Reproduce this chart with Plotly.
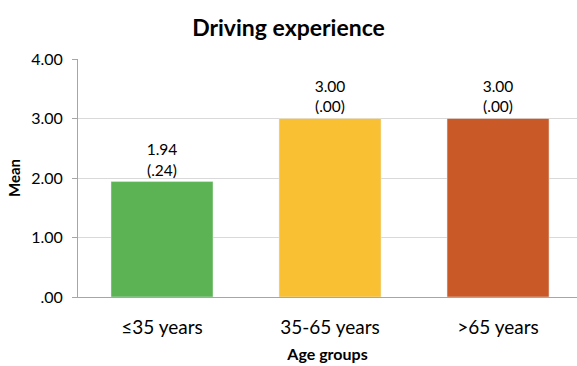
import plotly.graph_objects as go

categories = ["≤35 years", "35-65 years", ">65 years"]
means = [1.94, 3.00, 3.00]
sds = [".24", ".00", ".00"]
colors = ["#5CB353", "#F9C033", "#C95A27"]
y_ticks = [0, 1, 2, 3, 4]
y_tick_labels = [".00", "1.00", "2.00", "3.00", "4.00"]

labels = [f"{m:.2f}<br>({s})" for m, s in zip(means, sds)]

fig = go.Figure(go.Bar(
    x=categories, y=means, marker_color=colors, width=0.607,
    text=labels, textposition="outside", cliponaxis=False,
    textfont=dict(size=15.5, color="#000000", family="Lato"),
    hoverinfo="skip",
))

fig.update_layout(
    width=577, height=366,
    margin=dict(l=78, r=0, t=59, b=69),
    paper_bgcolor="white", plot_bgcolor="white",
    font=dict(family="Lato", color="#000000"),
    title=dict(text="<b>Driving experience</b>", x=0.5, xanchor="center",
               y=0.925, yanchor="middle", font=dict(size=23, family="Lato")),
    showlegend=False,
)
fig.update_xaxes(
    range=[-0.5, 2.47], showline=True, linecolor="#A6A6A6", linewidth=1,
    ticks="", tickfont=dict(size=19), ticklabelstandoff=13,
    title=dict(text="<b>Age groups</b>", font=dict(size=16), standoff=12),
)
fig.update_yaxes(
    range=[0, 4], tickvals=y_ticks, ticktext=y_tick_labels,
    showline=True, linecolor="#A6A6A6", linewidth=1,
    ticks="outside", ticklen=5, tickcolor="#A6A6A6",
    gridcolor="#D9D9D9", gridwidth=1, zeroline=False,
    tickfont=dict(size=16), ticklabelstandoff=6,
    title=dict(text="<b>Mean</b>", font=dict(size=15), standoff=6),
)

fig.write_html("out.html")
